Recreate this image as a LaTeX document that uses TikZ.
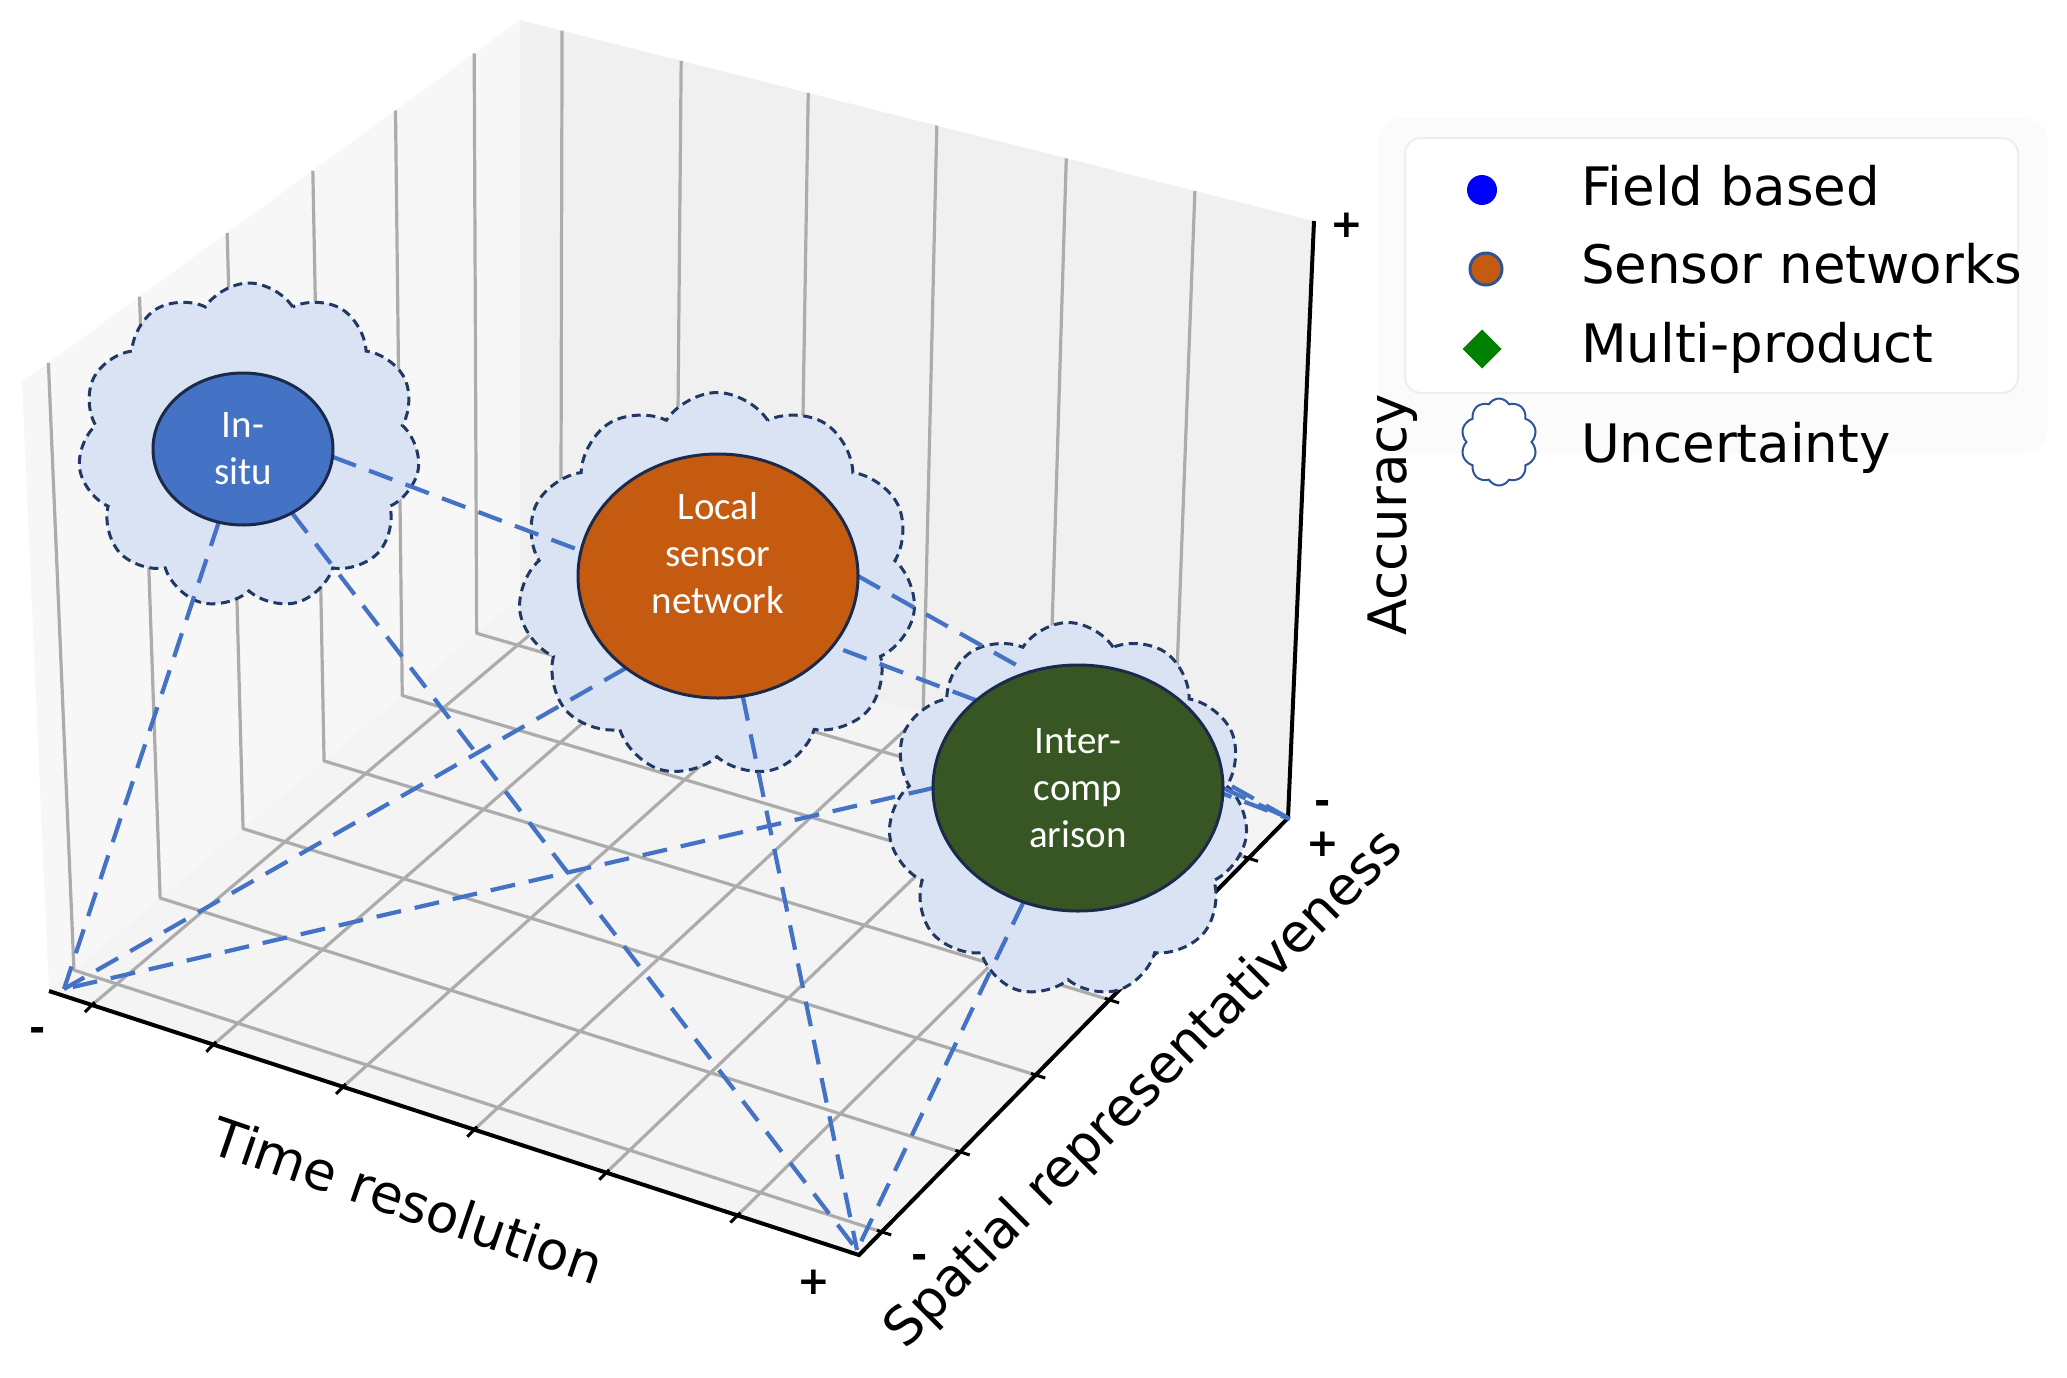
\documentclass[tikz,border=0pt]{standalone}
\usepackage{fontspec}
\setmainfont{DejaVu Sans}
\newfontfamily\carlito{Carlito}
\usetikzlibrary{calc,shapes.geometric,shapes.symbols}
\definecolor{pLeft}{HTML}{F7F7F7}
\definecolor{pBack}{HTML}{F0F0F0}
\definecolor{pFloor}{HTML}{F4F4F4}
\definecolor{gridc}{HTML}{ACACAC}
\definecolor{cloudfill}{HTML}{DAE3F3}
\definecolor{cloudline}{HTML}{1F3864}
\definecolor{linkc}{HTML}{4472C4}
\definecolor{insitufill}{HTML}{4472C4}
\definecolor{localfill}{HTML}{C55A11}
\definecolor{interfill}{HTML}{375623}
\definecolor{ellline}{HTML}{1B2A4A}
\definecolor{legblue}{HTML}{0000FF}
\definecolor{leggreen}{HTML}{008000}
\definecolor{legline}{HTML}{2F5597}
\definecolor{legshade}{HTML}{FBFBFB}
\definecolor{legedge}{HTML}{EEEEEE}
\pgfdeclarelayer{bg}
\pgfdeclarelayer{links}
\pgfsetlayers{bg,links,main}
\begin{document}
\begin{tikzpicture}[x=0.5pt,y=-0.5pt,
  every node/.style={inner sep=0pt, outer sep=0pt},
  gridline/.style={draw=gridc, line width=1.6pt, line join=round},
  axisline/.style={draw=black, line width=2pt},
  tickline/.style={draw=black, line width=1.5pt},
  pm/.style={font=\bfseries\fontsize{19.5}{20}\selectfont},
  axlabel/.style={font=\fontsize{26.5}{30}\selectfont},
  uncert/.style={cloud, cloud puffs=11, cloud puff arc=115, cloud ignores aspect,
    draw=cloudline, fill=cloudfill, line width=1.5pt, dash pattern=on 4.5pt off 2.8pt},
  bubble/.style={ellipse, draw=ellline, line width=1.5pt, text=white, align=center,
    font=\carlito\fontsize{19.5}{23.5}\selectfont},
  link/.style={draw=linkc, line width=2.1pt, dash pattern=on 12.5pt off 7pt},
  legtext/.style={anchor=base west, font=\fontsize{26.5}{30}\selectfont}
]
\useasboundingbox (0,0) rectangle (2067,1377);

\coordinate (A) at (49,991);
\coordinate (B) at (859,1255);
\coordinate (C) at (1288,818);
\coordinate (D) at (520,597);
\coordinate (Ap) at (22,382);
\coordinate (Dp) at (520,20);
\coordinate (Cp) at (1314,221);

\begin{pgfonlayer}{bg}
\fill[pLeft] (Ap) -- (Dp) -- (D) -- (A) -- cycle;
\fill[pBack] (Dp) -- (Cp) -- (C) -- (D) -- cycle;
\fill[pFloor] (A) -- (B) -- (C) -- (D) -- cycle;
\foreach \f in {0.053,0.203,0.363,0.525,0.688,0.850}
  \draw[gridline] ($(A)!\f!(B)$) -- ($(D)!\f!(C)$) -- ($(Dp)!\f!(Cp)$);
\foreach \f in {0.053,0.236,0.412,0.584,0.750,0.908}
  \draw[gridline] ($(B)!\f!(C)$) -- ($(A)!\f!(D)$) -- ($(Ap)!\f!(Dp)$);
\draw[axisline] (A) -- (B) -- (C) -- (Cp);
\foreach \f in {0.053,0.203,0.363,0.525,0.688,0.850}
  \draw[tickline] ($(A)!\f!(B)+(-7,7.1)$) -- ($(A)!\f!(B)+(2.8,-2.85)$);
\foreach \f in {0.053,0.236,0.412,0.584,0.750,0.908}
  \draw[tickline] ($(B)!\f!(C)+(-4.8,-1.55)$) -- ($(B)!\f!(C)+(9.5,3.1)$);

\node[uncert, minimum width=171pt, minimum height=163pt] (c1) at (249,446) {};
\node[uncert, minimum width=199pt, minimum height=192.5pt] (c2) at (717,585) {};
\node[uncert, minimum width=180pt, minimum height=187.5pt] (c3) at (1068,810) {};

\node[fill=legshade, rounded corners=12pt, minimum width=335pt, minimum height=167.5pt] (legshadow) at (1713,285.5) {};
\node[draw=legedge, fill=white, line width=1pt, rounded corners=8pt, minimum width=306.5pt, minimum height=127.5pt] (legbox) at (1711.5,265.5) {};
\end{pgfonlayer}

\node[bubble, fill=insitufill, minimum width=90pt, minimum height=76pt] (insitu) at (243,449) {In-\\situ};
\node[bubble, fill=localfill, minimum width=140pt, minimum height=122pt] (local) at (718,576) {Local\\sensor\\network\\~};
\node[bubble, fill=interfill, minimum width=145pt, minimum height=123pt] (inter) at (1078,788) {Inter-\\comp\\arison};

\begin{pgfonlayer}{links}
\coordinate (q1) at (64,989);
\coordinate (q2) at (857,1250);
\coordinate (q3) at (1290,819);
\draw[link] (insitu) -- (q1);
\draw[link] (insitu) -- (q2);
\draw[link] (insitu.-5) -- (q3);
\draw[link] (local.225) -- (q1);
\draw[link] (local) -- (q2);
\draw[link] (local.east) -- (q3);
\draw[link] (inter.west) -- (q1);
\draw[link] (inter) -- (q2);
\draw[link] (inter.east) -- (q3);
\end{pgfonlayer}

\node[pm] (tminus) at (38,1034) {-};
\node[pm] (tplus) at (814,1282) {+};
\node[pm] (sminus) at (920,1261) {-};
\node[pm] (splus) at (1323,844) {+};
\node[pm] (aminus) at (1323,807) {-};
\node[pm] (aplus) at (1347,225) {+};

\node[axlabel, rotate=-19] (tlab) at (408,1200) {Time resolution};
\node[axlabel, rotate=45] (slab) at (1145,1090) {Spatial representativeness};
\node[axlabel, rotate=90] (alab) at (1393,515) {Accuracy};

\node[circle, fill=legblue, minimum size=15pt] (mk1) at (1482,190) {};
\node[circle, fill=localfill, draw=legline, line width=1.5pt, minimum size=16pt] (mk2) at (1486,269) {};
\node[diamond, aspect=1, fill=leggreen, minimum size=19.5pt] (mk3) at (1482,349) {};
\node[cloud, cloud puffs=10, cloud puff arc=120, cloud ignores aspect, draw=legline, fill=white, line width=1pt, minimum width=38pt, minimum height=43.5pt] (mk4) at (1499,442) {};
\node[legtext] (lt1) at (1581,205) {Field based};
\node[legtext] (lt2) at (1581,283) {Sensor networks};
\node[legtext] (lt3) at (1581,362) {Multi-product};
\node[legtext] (lt4) at (1581,462) {Uncertainty};
\end{tikzpicture}
\end{document}
